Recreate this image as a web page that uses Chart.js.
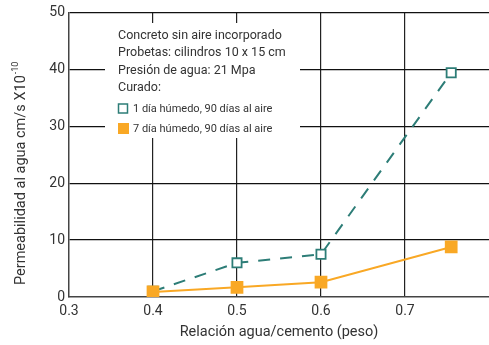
<!DOCTYPE html>
<html>
<head>
<meta charset="utf-8">
<script src="https://cdn.jsdelivr.net/npm/chart.js@4/dist/chart.umd.min.js"></script>
<style>
  html, body { margin: 0; padding: 0; background: #fff; }
  #wrap { width: 489px; height: 345px; }
</style>
</head>
<body>
<div id="wrap"><canvas id="chart" width="489" height="345"></canvas></div>
<script>
// values
const relacion = [0.4, 0.5, 0.6, 0.755];
const humedo1 = [1.0, 6.0, 7.5, 39.4];
const humedo7 = [0.9, 1.7, 2.6, 8.8];
const serieNombres = ['1 día húmedo, 90 días al aire', '7 día húmedo, 90 días al aire'];
const notas = ['Concreto sin aire incorporado', 'Probetas: cilindros 10 x 15 cm', 'Presión de agua: 21 Mpa', 'Curado:'];
const xTicks = [0.3, 0.4, 0.5, 0.6, 0.7];
const yTicks = [0, 10, 20, 30, 40, 50];

const teal = '#2d7d77';
const naranja = '#f9a825';
const fuente = 'Roboto';

// white note box with the legend, drawn over the grid
const notaBox = {
  id: 'notaBox',
  beforeDatasetsDraw(chart) {
    const ctx = chart.ctx;
    ctx.save();
    ctx.fillStyle = '#fff';
    ctx.fillRect(105, 23, 195, 115);
    ctx.fillStyle = '#333';
    ctx.textBaseline = 'middle';
    ctx.font = '12.5px ' + fuente;
    const ys = [36, 53, 70.5, 88];
    notas.forEach((t, i) => ctx.fillText(t, 118, ys[i]));
    ctx.font = '11px ' + fuente;
    // item 1: hollow square
    ctx.strokeStyle = teal;
    ctx.lineWidth = 1.5;
    ctx.strokeRect(118.5, 104, 9, 9);
    ctx.fillText(serieNombres[0], 133, 109);
    // item 2: filled square
    ctx.fillStyle = naranja;
    ctx.fillRect(118, 123, 11, 11);
    ctx.fillStyle = '#333';
    ctx.fillText(serieNombres[1], 133, 129);
    ctx.restore();
  },
  afterDraw(chart) {
    // y title with real superscript
    const ctx = chart.ctx;
    ctx.save();
    ctx.translate(21, 285);
    ctx.rotate(-Math.PI / 2);
    ctx.fillStyle = '#333';
    ctx.textBaseline = 'middle';
    ctx.font = '14.5px ' + fuente;
    const t = 'Permeabilidad al agua cm/s X10';
    ctx.fillText(t, 0, 0);
    const w = ctx.measureText(t).width;
    ctx.font = '9px ' + fuente;
    ctx.fillText('-10', w + 1, -5);
    ctx.restore();
  }
};

new Chart(document.getElementById('chart'), {
  type: 'line',
  data: {
    datasets: [{
      label: serieNombres[1],
      data: relacion.map((x, i) => ({ x: x, y: humedo7[i] })),
      borderColor: naranja,
      backgroundColor: naranja,
      borderWidth: 2,
      pointStyle: 'rect',
      pointRadius: 9,
      pointBorderWidth: 0,
      tension: 0
    }, {
      label: serieNombres[0],
      data: relacion.map((x, i) => ({ x: x, y: humedo1[i] })),
      borderColor: teal,
      backgroundColor: '#fff',
      borderWidth: 2,
      borderDash: [12, 10],
      pointStyle: 'rect',
      pointRadius: 6.5,
      pointBorderWidth: 1.8,
      tension: 0
    }]
  },
  options: {
    responsive: false,
    animation: false,
    layout: { autoPadding: false, padding: { top: 10, left: 0, right: 0, bottom: 0 } },
    plugins: { legend: { display: false }, tooltip: { enabled: false } },
    scales: {
      x: {
        type: 'linear',
        min: 0.3,
        max: 0.8,
        afterBuildTicks: s => { s.ticks = xTicks.concat([0.8]).map(v => ({ value: v })); },
        afterFit: s => { s.height = 48; s.paddingRight = 0; },
        ticks: {
          padding: 6,
          color: '#333',
          font: { family: fuente, size: 14 },
          callback: v => (v > 0.75 ? '' : v.toFixed(1))
        },
        grid: {
          drawTicks: false,
          lineWidth: 1.2,
          color: c => (c.tick && (c.tick.value < 0.35 || c.tick.value > 0.75) ? 'rgba(0,0,0,0)' : '#222')
        },
        border: { color: '#444', width: 1.5 },
        title: {
          display: true,
          text: 'Relación agua/cemento (peso)',
          color: '#333',
          font: { family: fuente, size: 14.5 },
          padding: { top: 4 }
        }
      },
      y: {
        min: 0,
        max: 50,
        afterBuildTicks: s => { s.ticks = yTicks.map(v => ({ value: v })); },
        afterFit: s => { s.width = 69; },
        ticks: {
          padding: 4,
          color: '#333',
          font: { family: fuente, size: 14 }
        },
        grid: {
          drawTicks: false,
          lineWidth: 1.2,
          color: c => (c.tick && c.tick.value === 0 ? 'rgba(0,0,0,0)' : '#111')
        },
        border: { color: '#444', width: 1.5 }
      }
    }
  },
  plugins: [notaBox]
});
</script>
</body>
</html>
